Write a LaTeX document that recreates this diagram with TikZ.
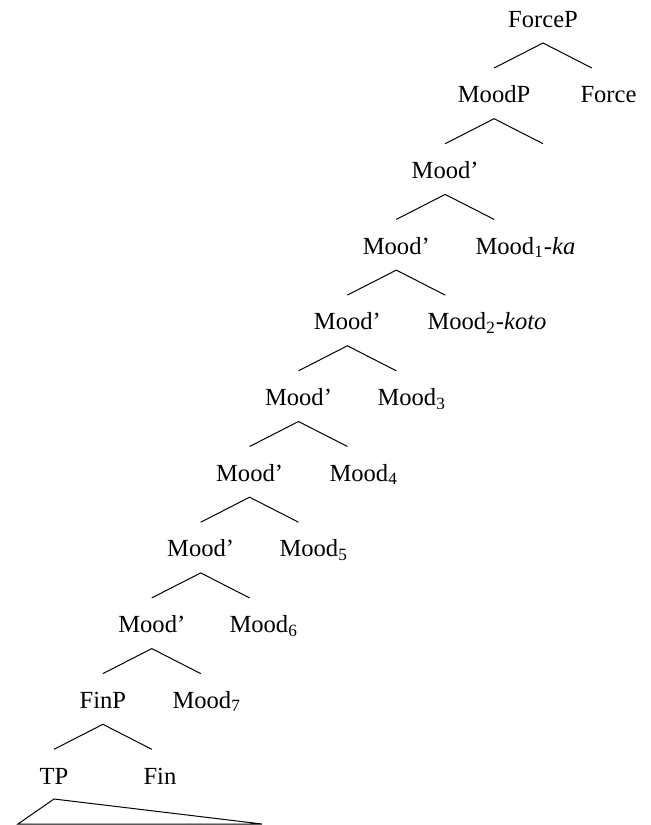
\documentclass[tikz,border=0pt]{standalone}
\usepackage{fontspec}
\setmainfont{Liberation Serif}
\tikzset{
    lbl/.style={inner sep=0pt, font=\fontsize{12.3}{15}\selectfont},
}
\begin{document}
\begin{tikzpicture}[x=0.5pt, y=-0.5pt, line width=0.5pt]
    \useasboundingbox (0,0) rectangle (650,825);

    % projections down the left edge
    \foreach \k/\lab in {0/ForceP,1/MoodP,2/Mood',3/Mood',4/Mood',5/Mood',6/Mood',7/Mood',8/Mood',9/FinP,10/TP} {
        \node[lbl, anchor=base] (l\k) at ({543-48.9*\k},{27+75.7*\k}) {\lab};
    }

    % heads on the right
    \foreach \k/\x/\lab in {1/580/Force,
            3/475/{Mood\textsubscript{1}-\textit{ka}},
            4/427/{Mood\textsubscript{2}-\textit{koto}},
            5/377/Mood\textsubscript{3},
            6/329/Mood\textsubscript{4},
            7/279/Mood\textsubscript{5},
            8/229/Mood\textsubscript{6},
            9/172/Mood\textsubscript{7},
            10/143/Fin} {
        \node[lbl, anchor=base west] (r\k) at (\x,{27+75.7*\k}) {\lab};
    }

    % branches
    \foreach \k in {0,...,9} {
        \pgfmathtruncatemacro\n{\k+1}
        \draw ([yshift=17.35pt]l\n.base) -- ([yshift=-8pt]l\k.base) -- +(48.9,25);
    }

    % triangle under TP
    \draw ([yshift=-7.5pt]l10.base) -- +(-36,25) -- +(208,25) -- cycle;
\end{tikzpicture}
\end{document}
